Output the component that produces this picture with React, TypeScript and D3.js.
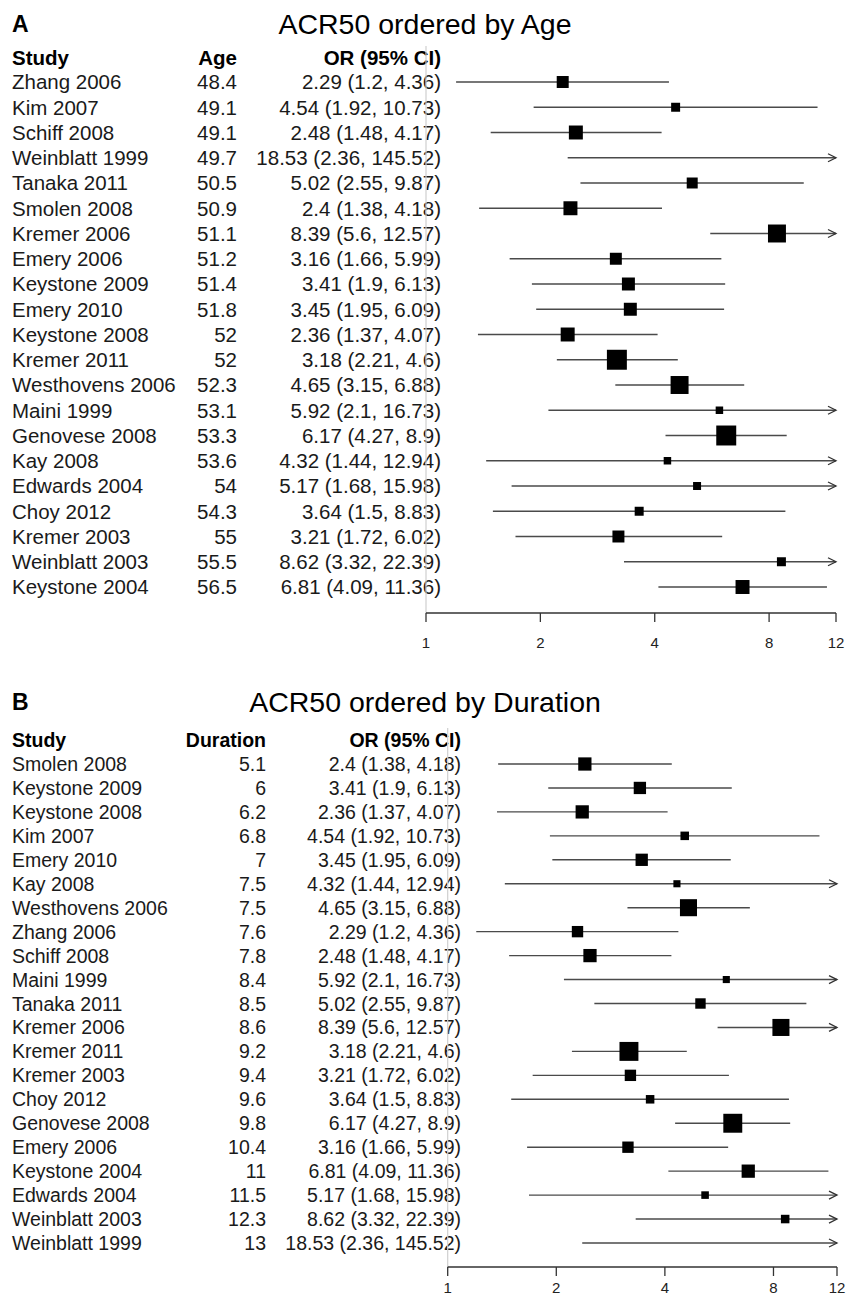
import React from "react";
import * as d3 from "d3";

// studies in the age order of panel A
const studies = [
  "Zhang 2006", "Kim 2007", "Schiff 2008", "Weinblatt 1999", "Tanaka 2011",
  "Smolen 2008", "Kremer 2006", "Emery 2006", "Keystone 2009", "Emery 2010",
  "Keystone 2008", "Kremer 2011", "Westhovens 2006", "Maini 1999", "Genovese 2008",
  "Kay 2008", "Edwards 2004", "Choy 2012", "Kremer 2003", "Weinblatt 2003", "Keystone 2004",
];
const ages = [48.4, 49.1, 49.1, 49.7, 50.5, 50.9, 51.1, 51.2, 51.4, 51.8, 52, 52, 52.3, 53.1, 53.3, 53.6, 54, 54.3, 55, 55.5, 56.5];
const durations = [7.6, 6.8, 7.8, 13, 8.5, 5.1, 8.6, 10.4, 6, 7, 6.2, 9.2, 7.5, 8.4, 9.8, 7.5, 11.5, 9.6, 9.4, 12.3, 11];
const oddsRatios = [2.29, 4.54, 2.48, 18.53, 5.02, 2.4, 8.39, 3.16, 3.41, 3.45, 2.36, 3.18, 4.65, 5.92, 6.17, 4.32, 5.17, 3.64, 3.21, 8.62, 6.81];
const ciLower = [1.2, 1.92, 1.48, 2.36, 2.55, 1.38, 5.6, 1.66, 1.9, 1.95, 1.37, 2.21, 3.15, 2.1, 4.27, 1.44, 1.68, 1.5, 1.72, 3.32, 4.09];
const ciUpper = [4.36, 10.73, 4.17, 145.52, 9.87, 4.18, 12.57, 5.99, 6.13, 6.09, 4.07, 4.6, 6.88, 16.73, 8.9, 12.94, 15.98, 8.83, 6.02, 22.39, 11.36];
// relative study weight (box size)
const weights = [12, 9, 14, 4, 11, 14, 18, 12, 13, 13, 14, 20, 18, 7.5, 20, 7.5, 8, 9, 12, 9, 14];

const durationOrder = [
  "Smolen 2008", "Keystone 2009", "Keystone 2008", "Kim 2007", "Emery 2010",
  "Kay 2008", "Westhovens 2006", "Zhang 2006", "Schiff 2008", "Maini 1999",
  "Tanaka 2011", "Kremer 2006", "Kremer 2011", "Kremer 2003", "Choy 2012",
  "Genovese 2008", "Emery 2006", "Keystone 2004", "Edwards 2004", "Weinblatt 2003", "Weinblatt 1999",
];

const axisTicks = [1, 2, 4, 8, 12];

const FONT = "'Liberation Sans', Arial, Helvetica, sans-serif";

type Row = { study: string; cov: number; or: number; lo: number; hi: number; w: number };

const makeRows = (order: string[], cov: number[]): Row[] =>
  order.map(s => {
    const i = studies.indexOf(s);
    return { study: s, cov: cov[i], or: oddsRatios[i], lo: ciLower[i], hi: ciUpper[i], w: weights[i] };
  });

type PanelProps = {
  letter: string;
  title: string;
  covLabel: string;
  rows: Row[];
  titleY: number;
  headerY: number;
  rowStart: number;
  rowStep: number;
  covRight: number;
  orRight: number;
  x0: number;
  x1: number;
  axisY: number;
  labelGap: number;
  fontSize: number;
};

const Panel = (p: PanelProps) => {
  const x = d3.scaleLog().domain([1, 12]).range([p.x0, p.x1]);
  const y = d3.scaleLinear().domain([0, 1]).range([p.rowStart, p.rowStart + p.rowStep]);
  const size = d3.scaleLinear().domain([0, 20]).range([0, 20 * (p.rowStep / 25.3)]);
  const [dMin, dMax] = x.domain();
  const clamp = (v: number) => Math.max(dMin, Math.min(dMax, v));
  const base = p.fontSize * 0.36;

  return (
    <g fontFamily={FONT}>
      <text x={12} y={p.titleY + 8} fontSize={23} fontWeight="bold">{p.letter}</text>
      <text x={425} y={p.titleY + 10} fontSize={28.5} textAnchor="middle">{p.title}</text>

      <g fontSize={p.fontSize} fontWeight="bold">
        <text x={12} y={p.headerY + base}>Study</text>
        <text x={p.covRight} y={p.headerY + base} textAnchor="end">{p.covLabel}</text>
        <text x={p.orRight} y={p.headerY + base} textAnchor="end">OR (95% CI)</text>
      </g>

      <g fontSize={p.fontSize} fill="#1a1a1a">
        {p.rows.map((r, i) => (
          <g key={r.study}>
            <text x={12} y={y(i) + base}>{r.study}</text>
            <text x={p.covRight} y={y(i) + base} textAnchor="end">{String(r.cov)}</text>
            <text x={p.orRight} y={y(i) + base} textAnchor="end">{`${r.or} (${r.lo}, ${r.hi})`}</text>
          </g>
        ))}
      </g>

      {/* reference line at OR = 1 */}
      <line x1={x(1)} x2={x(1)} y1={p.headerY - 12} y2={p.axisY} stroke="#cfcfcf" strokeWidth={1.2} />

      {p.rows.map((r, i) => {
        const cy = y(i);
        const xl = x(clamp(r.lo));
        const xr = x(clamp(r.hi));
        const s = size(r.w);
        return (
          <g key={"ci" + r.study}>
            <line x1={xl} x2={xr} y1={cy} y2={cy} stroke="#4a4a4a" strokeWidth={1.4} />
            {r.hi > dMax && (
              <path d={`M${xr - 8},${cy - 4}L${xr},${cy}L${xr - 8},${cy + 4}`} fill="none" stroke="#333" strokeWidth={1.3} />
            )}
            {r.or <= dMax && (
              <rect x={x(r.or) - s / 2} y={cy - s / 2} width={s} height={s} fill="#000" />
            )}
          </g>
        );
      })}

      {/* x axis */}
      <g stroke="#333" strokeWidth={1.3}>
        <line x1={p.x0} x2={p.x1} y1={p.axisY} y2={p.axisY} />
        {axisTicks.map(t => (
          <line key={t} x1={x(t)} x2={x(t)} y1={p.axisY} y2={p.axisY + 9} />
        ))}
      </g>
      <g fontSize={15} fill="#222" textAnchor="middle">
        {axisTicks.map(t => (
          <text key={t} x={x(t)} y={p.axisY + p.labelGap}>{t}</text>
        ))}
      </g>
    </g>
  );
};

export default function App() {
  const rowsA = makeRows(studies, ages);
  const rowsB = makeRows(durationOrder, durations);
  return (
    <svg width={850} height={1306} style={{ position: "absolute", left: 0, top: 0, background: "#fff" }}>
      <Panel
        letter="A" title="ACR50 ordered by Age" covLabel="Age" rows={rowsA}
        titleY={24} headerY={58} rowStart={82} rowStep={25.25}
        covRight={237} orRight={441} x0={426} x1={836}
        axisY={613} labelGap={35} fontSize={20.5}
      />
      <Panel
        letter="B" title="ACR50 ordered by Duration" covLabel="Duration" rows={rowsB}
        titleY={702} headerY={740} rowStart={764} rowStep={23.95}
        covRight={266} orRight={461} x0={447.7} x1={837}
        axisY={1267} labelGap={26} fontSize={19.5}
      />
    </svg>
  );
}
